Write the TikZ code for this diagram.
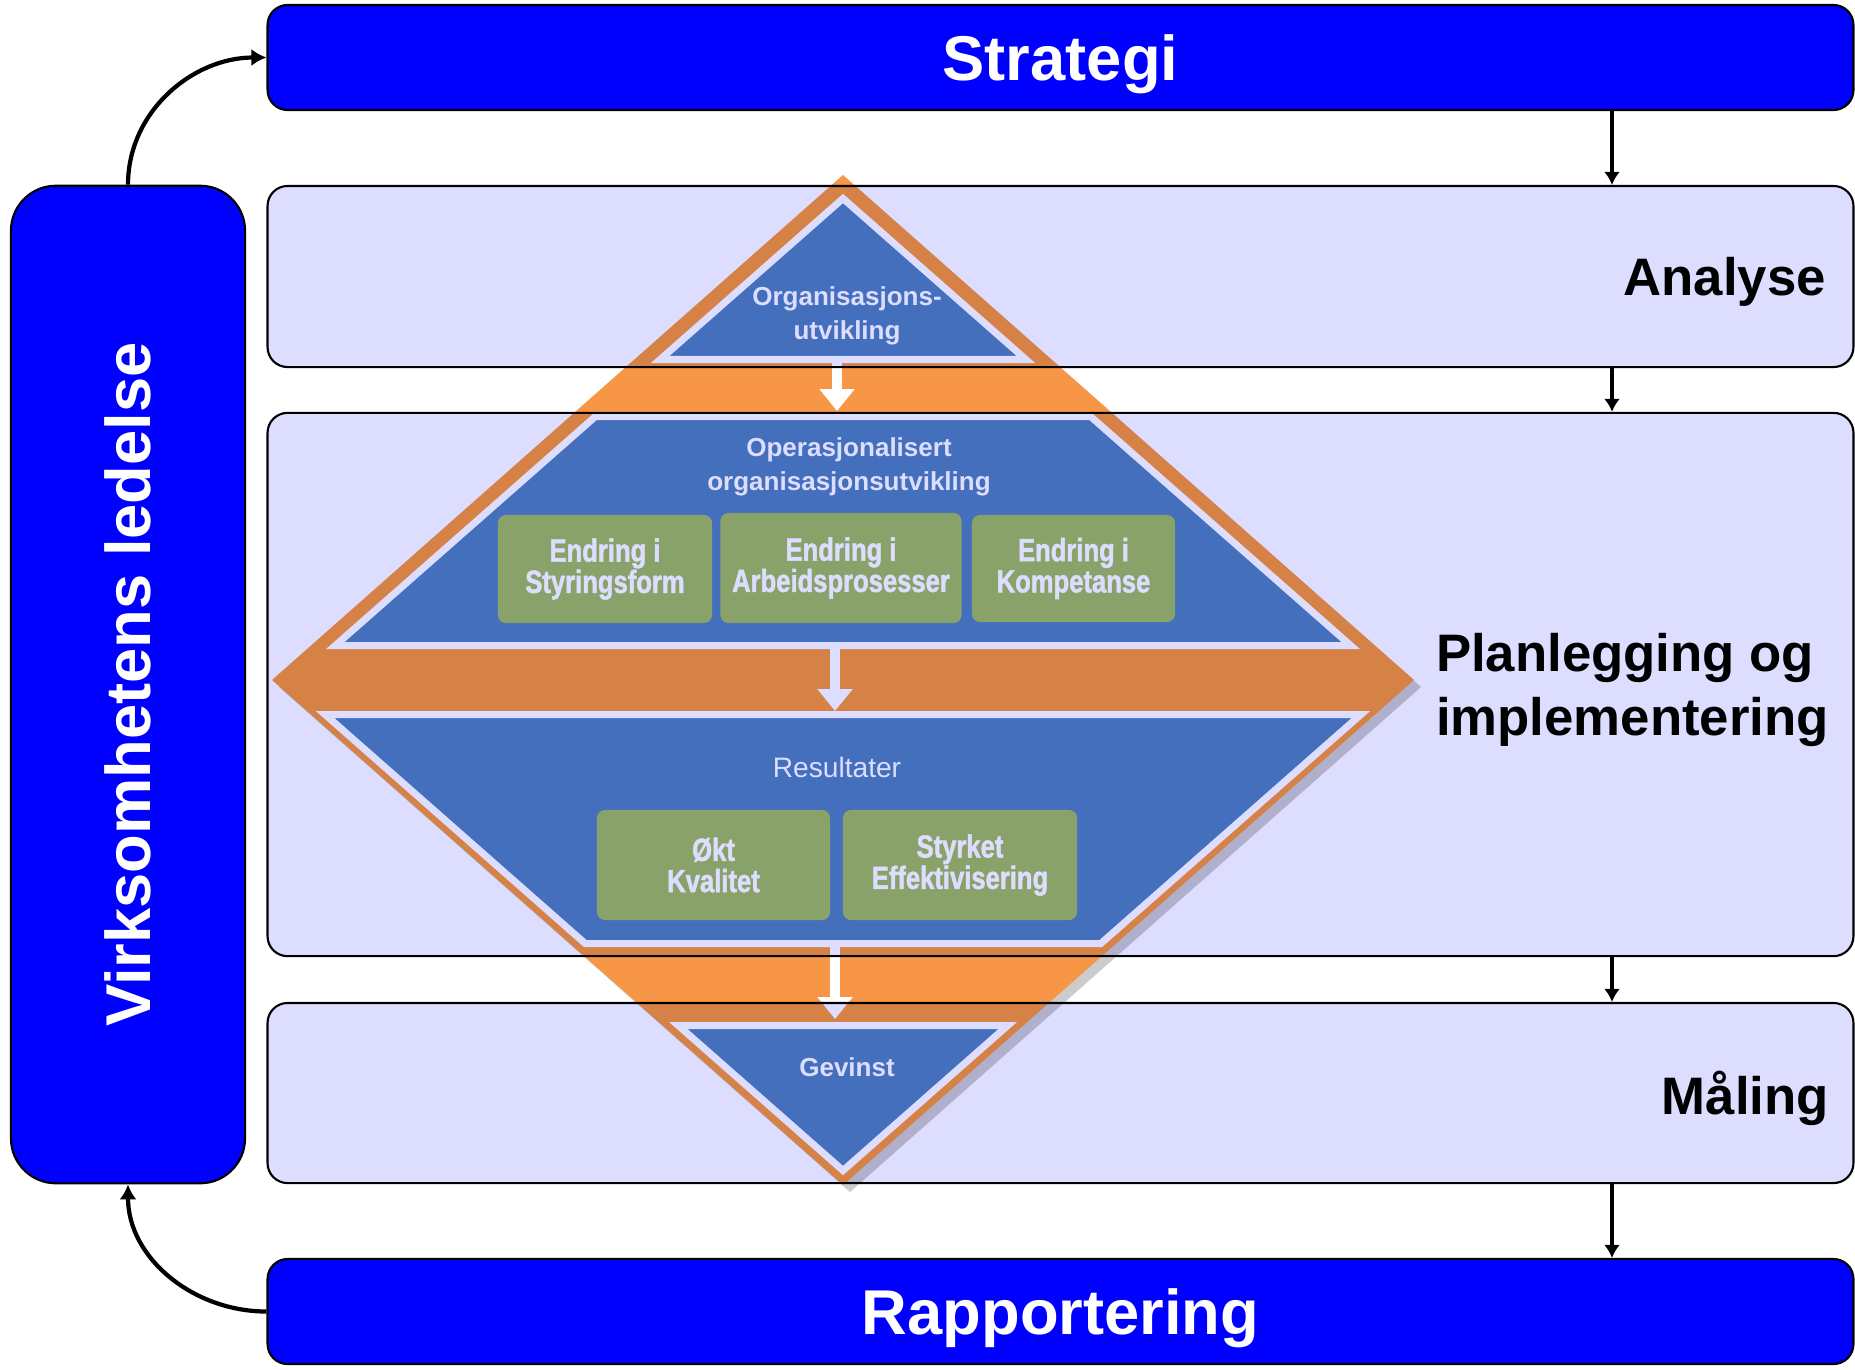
\documentclass[tikz,border=0pt]{standalone}
\usepackage{fontspec}
\setmainfont{Liberation Sans}
\newfontfamily\narrowsans[FakeStretch=0.8, BoldFeatures={FakeBold=1.5}]{Liberation Sans}
\usetikzlibrary{arrows.meta}

\definecolor{ledblue}{HTML}{0000FF}
\definecolor{lavender}{HTML}{DDDDFF}
\definecolor{dorange}{HTML}{F79646}
\definecolor{dblue}{HTML}{4F81BD}
\definecolor{dgreen}{HTML}{9EBC6A}

\tikzset{
    bluebox/.style={draw=black, line width=0.6pt, fill=ledblue, rounded corners=0.2cm, text=white, text depth=0pt, font=\bfseries\fontsize{18}{21}\selectfont},
    panel/.style={draw=black, line width=0.6pt, fill=lavender, rounded corners=0.2cm, minimum width=15.85cm},
    paneltext/.style={anchor=east, inner sep=0pt, align=left, text depth=0pt, font=\bfseries\fontsize{15}{18.2}\selectfont},
    band/.style={fill=dblue, draw=white, line width=2pt},
    greenbox/.style={fill=dgreen, rounded corners=0.08cm, text=white, align=center, font=\narrowsans\bfseries\fontsize{9.1}{8.9}\selectfont},
    bandtext/.style={text=white, align=center, font=\bfseries\fontsize{7.4}{9.6}\selectfont},
    flow/.style={line width=1.1pt, -{Latex[length=1.3mm, width=1.6mm]}},
    curvearrow/.style={line width=1.2pt, -{Latex[length=1.5mm, width=1.7mm]}},
    whitearrow/.style={draw=white, line width=2.8pt, -{Triangle[length=2.2mm, width=3.4mm]}}
}

\begin{document}
\begin{tikzpicture}[x=0.01cm, y=-0.01cm]
    \useasboundingbox (0, 0) rectangle (1855, 1369);

    % frame boxes
    \node[bluebox, minimum width=15.85cm, minimum height=1.05cm] (strategi) at (1060.5, 57.5) {Strategi};
    \node[bluebox, minimum width=15.85cm, minimum height=1.05cm] (rapport) at (1060.5, 1311.5) {Rapportering};
    \node[bluebox, rounded corners=0.45cm, minimum width=2.34cm, minimum height=9.97cm] (ledelse) at (128, 684.5) {};
    \node[rotate=90, text=white, font=\bfseries\fontsize{18}{21}\selectfont] (ledelsetxt) at (ledelse) {Virksomhetens ledelse};

    % the diamond
    \fill[gray, opacity=0.4] (850, 182) -- (1421, 687) -- (850, 1192) -- (279, 687) -- cycle;
    \fill[dorange] (843, 175) -- (1414, 680) -- (843, 1185) -- (272, 680) -- cycle;
    \path[band] (843, 198.5) -- (1025.9, 359.5) -- (660.1, 359.5) -- cycle;
    \path[band] (595.4, 416.5) -- (1090.6, 416.5) -- (1350.7, 645.5) -- (335.3, 645.5) -- cycle;
    \path[band] (325.1, 714.5) -- (1360.9, 714.5) -- (1100.8, 943.5) -- (585.2, 943.5) -- cycle;
    \path[band] (678.3, 1025.5) -- (1007.7, 1025.5) -- (843, 1170.5) -- cycle;

    \coordinate (d1a) at (837, 359.5);
    \coordinate (d1b) at (837, 411);
    \coordinate (d2a) at (835, 645.5);
    \coordinate (d2b) at (835, 711);
    \coordinate (d3a) at (835, 943.5);
    \coordinate (d3b) at (835, 1019);
    \draw[whitearrow] (d1a) -- (d1b);
    \draw[whitearrow] (d2a) -- (d2b);
    \draw[whitearrow] (d3a) -- (d3b);

    \node[bandtext] (orgtxt) at (847, 316) {Organisasjons-\\utvikling};
    \node[bandtext] (optxt) at (849, 467) {Operasjonalisert\\organisasjonsutvikling};
    \node[greenbox, minimum width=2.14cm, minimum height=1.08cm] (styring) at (605, 569) {Endring i\\Styringsform};
    \node[greenbox, minimum width=2.32cm, minimum height=1.1cm] (arbeid) at (841, 568) {Endring i\\Arbeidsprosesser};
    \node[greenbox, minimum width=2.03cm, minimum height=1.07cm] (kompetanse) at (1073.5, 568.5) {Endring i\\Kompetanse};
    \node[bandtext, font=\fontsize{8}{9.6}\selectfont] (restxt) at (837, 767) {Resultater};
    \node[greenbox, minimum width=2.33cm, minimum height=1.1cm] (kvalitet) at (713.5, 865) {Økt\\Kvalitet};
    \node[greenbox, minimum width=2.34cm, minimum height=1.1cm] (effektiv) at (960, 865) {Styrket\\Effektivisering};
    \node[bandtext] (gevinst) at (847, 1067) {Gevinst};

    % phases laid over the diamond
    \begin{scope}[blend mode=multiply]
        \node[panel, minimum height=1.81cm] (analyse) at (1060.5, 276.5) {};
        \node[panel, minimum height=5.43cm] (plan) at (1060.5, 684.5) {};
        \node[panel, minimum height=1.8cm] (maling) at (1060.5, 1093) {};
    \end{scope}
    \node[paneltext] (analysetxt) at ([xshift=-0.28cm]analyse.east) {Analyse};
    \node[paneltext] (plantxt) at ([xshift=-0.25cm]plan.east) {Planlegging og\\implementering};
    \node[paneltext] (malingtxt) at ([xshift=-0.25cm]maling.east) {Måling};

    % arrows
    \coordinate (rail) at (1612, 0);
    \draw[flow] (strategi.south -| rail) -- (analyse.north -| rail);
    \draw[flow] (analyse.south -| rail) -- (plan.north -| rail);
    \draw[flow] (plan.south -| rail) -- (maling.north -| rail);
    \draw[flow] (maling.south -| rail) -- (rapport.north -| rail);
    \draw[curvearrow] (ledelse.north) to[out=90, in=180] (strategi.west);
    \draw[curvearrow] (rapport.west) to[out=180, in=-90] (ledelse.south);
\end{tikzpicture}
\end{document}
